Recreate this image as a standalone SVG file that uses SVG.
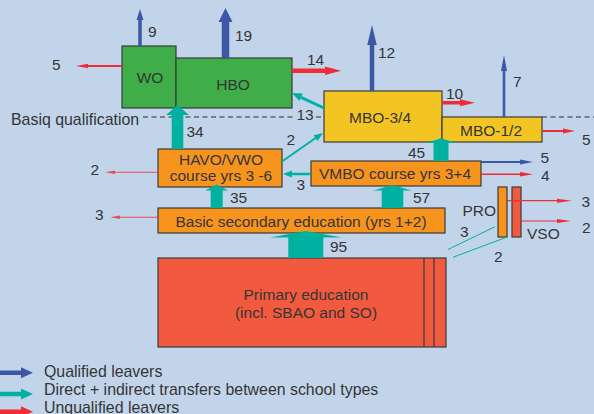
<svg xmlns="http://www.w3.org/2000/svg" width="594" height="414" viewBox="0 0 594 414">
<style>
text{font-family:"Liberation Sans",Arial,sans-serif;font-size:15.5px;fill:#353535}
.c{text-anchor:middle}
.e{text-anchor:end}
.lg{font-size:15.9px}
.box{stroke:#3a3a3a;stroke-width:1.2}
.g{fill:#3fae49}.y{fill:#f3c523}.o{fill:#f7941d}.r{fill:#f15a3f}
.bl{fill:#3b58a6}.tl{fill:#00b1a1}.rd{fill:#ee2d36}
.tline{stroke:#00b1a1;fill:none}
.dash{stroke:#666;stroke-width:1.5;stroke-dasharray:5 3.5;fill:none}
</style>
<rect width="594" height="414" fill="#c2d4ea"/>
<g id="basiq-line">
<path class="dash" d="M143 117H295M316 117H324M542 117H594"/>
<text class="lg" x="11" y="125">Basiq qualification</text>
</g>
<g id="wo"><rect class="box g" x="122" y="46" width="54" height="62"/><text class="c" x="150" y="83">WO</text></g>
<g id="hbo"><rect class="box g" x="176" y="58" width="116" height="50"/><text class="c" x="233" y="90">HBO</text></g>
<g id="mbo34"><rect class="box y" x="324" y="91" width="118" height="51"/><text class="c" x="380" y="123">MBO-3/4</text></g>
<g id="mbo12"><rect class="box y" x="442" y="117" width="100" height="25"/><text class="c" x="491" y="136">MBO-1/2</text></g>
<g id="havo"><rect class="box o" x="158" y="149" width="124" height="38"/><text class="c" x="221" y="165">HAVO/VWO</text><text class="c" x="221" y="181">course yrs 3 -6</text></g>
<g id="vmbo"><rect class="box o" x="311" y="161" width="170" height="25"/><text class="c" x="395" y="179">VMBO course yrs 3+4</text></g>
<g id="basic"><rect class="box o" x="158" y="208" width="287" height="25"/><text class="c" x="301" y="226.5">Basic secondary education (yrs 1+2)</text></g>
<g id="pro"><rect class="box o" x="498" y="187" width="9" height="50"/><text class="e" x="496" y="216">PRO</text></g>
<g id="vso"><rect class="box r" x="512" y="187" width="9" height="50"/><text x="527" y="239">VSO</text></g>
<g id="primary"><rect class="box r" x="158" y="258" width="288" height="89"/><path class="box" fill="none" d="M424 258V347M434 258V347"/><text class="c" x="306" y="300">Primary education</text><text class="c" x="306" y="318">(incl. SBAO and SO)</text></g>
<g id="connectors">
<polygon class="bl" points="138.25,46 138.25,20 136.5,20 140,9 143.5,20 141.75,20 141.75,46"/>
<polygon class="bl" points="221.75,58 221.75,22 218.5,22 225.5,8 232.5,22 229.25,22 229.25,58"/>
<polygon class="bl" points="369.75,91 369.75,45 367.25,45 372,25 376.75,45 374.25,45 374.25,91"/>
<polygon class="bl" points="502.7,117 502.7,71 501,71 504,55 507,71 505.3,71 505.3,117"/>
<polygon class="bl" points="481,161 520,161 520,159.5 533,162 520,164.5 520,163 481,163"/>
<polygon class="tl" points="171.7,149 171.7,115 166,115 177.5,105 189,115 183.3,115 183.3,149"/>
<polygon class="tl" points="210.7,208 210.7,190.5 205.2,190.5 216.7,184.5 228.2,190.5 222.7,190.5 222.7,208"/>
<polygon class="tl" points="381.7,208 381.7,190.5 373.3,190.5 392.5,185 411.7,190.5 403.3,190.5 403.3,208"/>
<polygon class="tl" points="288.3,258 288.3,237.5 269.8,237.5 305.8,231 341.8,237.5 323.3,237.5 323.3,258"/>
<polygon class="tl" points="433.5,161 433.5,143 426,143 441,138.3 456,143 448.5,143 448.5,161"/>
<line class="tline" stroke-width="3" x1="324" y1="108" x2="301" y2="97.3"/>
<polygon class="tl" points="292,93 302.8,93.6 299.4,100.9"/>
<line class="tline" stroke-width="2" x1="282" y1="161.5" x2="316" y2="137.8"/>
<polygon class="tl" points="323,133 317.6,141 313.6,135.3"/>
<line class="tline" stroke-width="2.5" x1="311" y1="174" x2="291" y2="174"/>
<polygon class="tl" points="283,174 292,170.5 292,177.5"/>
<line class="tline" stroke-width="1" x1="448" y1="249.5" x2="495" y2="226.7"/>
<line class="tline" stroke-width="1" x1="453" y1="257.3" x2="508" y2="236.7"/>
<polygon class="rd" points="292,68.45 325,68.45 325,66.45 341,70.7 325,74.95 325,72.95 292,72.95"/>
<polygon class="rd" points="442,100.95 460,100.95 460,99.2 475,102.7 460,106.2 460,104.45 442,104.45"/>
<polygon class="rd" points="122,65 88,65 88,63.8 76,66 88,68.2 88,67 122,67"/>
<polygon class="rd" points="542,130 563,130 563,128.5 575,131 563,133.5 563,132 542,132"/>
<polygon class="rd" points="481,173.6 520,173.6 520,172 533,174.3 520,176.6 520,175 481,175"/>
<polygon class="rd" points="507,200.1 557,200.1 557,198.7 572,200.7 557,202.7 557,201.3 507,201.3"/>
<polygon class="rd" points="521,220.4 557,220.4 557,219 571,221 557,223 557,221.6 521,221.6"/>
<polygon class="rd" opacity="0.8" points="158,171.8 115,171.8 115,170.6 105,172.3 115,174 115,172.8 158,172.8"/>
<polygon class="rd" opacity="0.8" points="158,216.8 120,216.8 120,215.6 110,217.3 120,219 120,217.8 158,217.8"/>
<text x="148" y="37">9</text>
<text x="235" y="41">19</text>
<text x="52" y="70">5</text>
<text x="307" y="65">14</text>
<text x="378" y="58">12</text>
<text x="513" y="87">7</text>
<text x="446" y="99">10</text>
<text x="582" y="145">5</text>
<text x="296.5" y="120">13</text>
<text x="286.5" y="145">2</text>
<text x="296.5" y="190">3</text>
<text x="186.5" y="137">34</text>
<text x="90.5" y="175">2</text>
<text x="230" y="203">35</text>
<text x="95" y="220">3</text>
<text x="408" y="158">45</text>
<text x="413" y="203">57</text>
<text x="330" y="252">95</text>
<text x="540.5" y="163">5</text>
<text x="541" y="181">4</text>
<text x="581.5" y="207">3</text>
<text x="582" y="232.5">2</text>
<text x="460" y="237">3</text>
<text x="494" y="262">2</text>
</g>
<g id="legend">
<polygon class="bl" points="0,370.5 21,370.5 21,367.2 33,372.7 21,378.2 21,374.9 0,374.9"/>
<polygon class="tl" points="0,391.8 21,391.8 21,388.5 33,394 21,399.5 21,396.2 0,396.2"/>
<polygon class="rd" points="0,409.5 21,409.5 21,406.2 33,411.7 21,417.2 21,413.9 0,413.9"/>
<text class="lg" x="44" y="377">Qualified leavers</text>
<text class="lg" x="44" y="395">Direct + indirect transfers between school types</text>
<text class="lg" x="44" y="412.5">Unqualified leavers</text>
</g>
</svg>
